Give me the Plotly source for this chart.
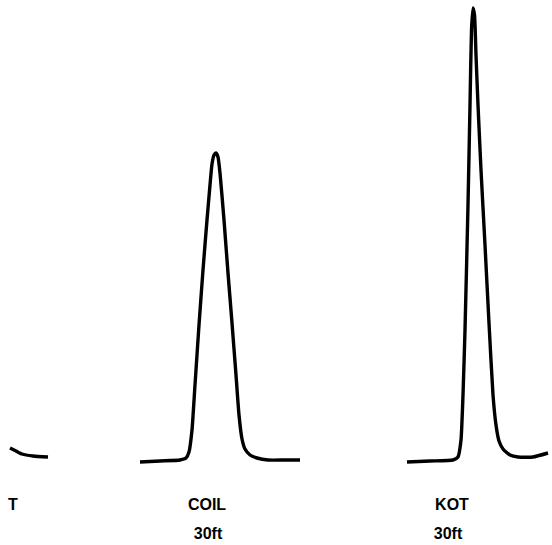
import plotly.graph_objects as go

# Trace readings (x position, signal height)
t_x = [10, 16, 22, 33, 48]
t_y = [97, 94, 91, 89, 88]

coil_x = [140, 160, 180, 186, 189, 192, 195, 199, 203, 207, 210, 212, 214, 216, 218, 220, 224, 228, 232, 236, 239, 242, 245, 250, 257, 268, 285, 300]
coil_y = [83, 84, 85, 87, 93, 115, 160, 220, 275, 325, 360, 381, 390, 392, 388, 372, 325, 272, 222, 170, 130, 106, 96, 90, 87, 85, 85, 85]

kot_x = [407, 430, 453, 458, 461, 463, 465, 468, 470, 471.5, 473, 474.5, 476, 478, 481, 485, 489, 493, 496, 499, 503, 510, 518, 533, 548]
kot_y = [83, 84, 85, 88, 105, 150, 215, 340, 440, 515, 537, 530, 490, 440, 375, 300, 222, 150, 120, 104, 96, 90, 88, 88, 92]

labels = ["T", "COIL", "30ft", "KOT", "30ft"]
label_x = [13, 207, 208, 452, 448]
label_y = [39, 39, 10, 39, 10]

fig = go.Figure()
for xs, ys in [(t_x, t_y), (coil_x, coil_y), (kot_x, kot_y)]:
    fig.add_trace(go.Scatter(x=xs, y=ys, mode="lines",
                             line=dict(color="black", width=3.4, shape="spline", smoothing=0.5),
                             hoverinfo="skip"))

fig.add_trace(go.Scatter(x=label_x, y=label_y, mode="text", text=labels,
                         textfont=dict(family="Liberation Sans", size=16, color="black"),
                         texttemplate="<b>%{text}</b>", hoverinfo="skip"))

fig.update_layout(
    width=552, height=545,
    margin=dict(l=0, r=0, t=0, b=0),
    paper_bgcolor="white", plot_bgcolor="white",
    showlegend=False,
    xaxis=dict(range=[0, 552], visible=False, fixedrange=True),
    yaxis=dict(range=[0, 545], visible=False, fixedrange=True),
)
fig.write_html("out.html", config={"displayModeBar": False})
